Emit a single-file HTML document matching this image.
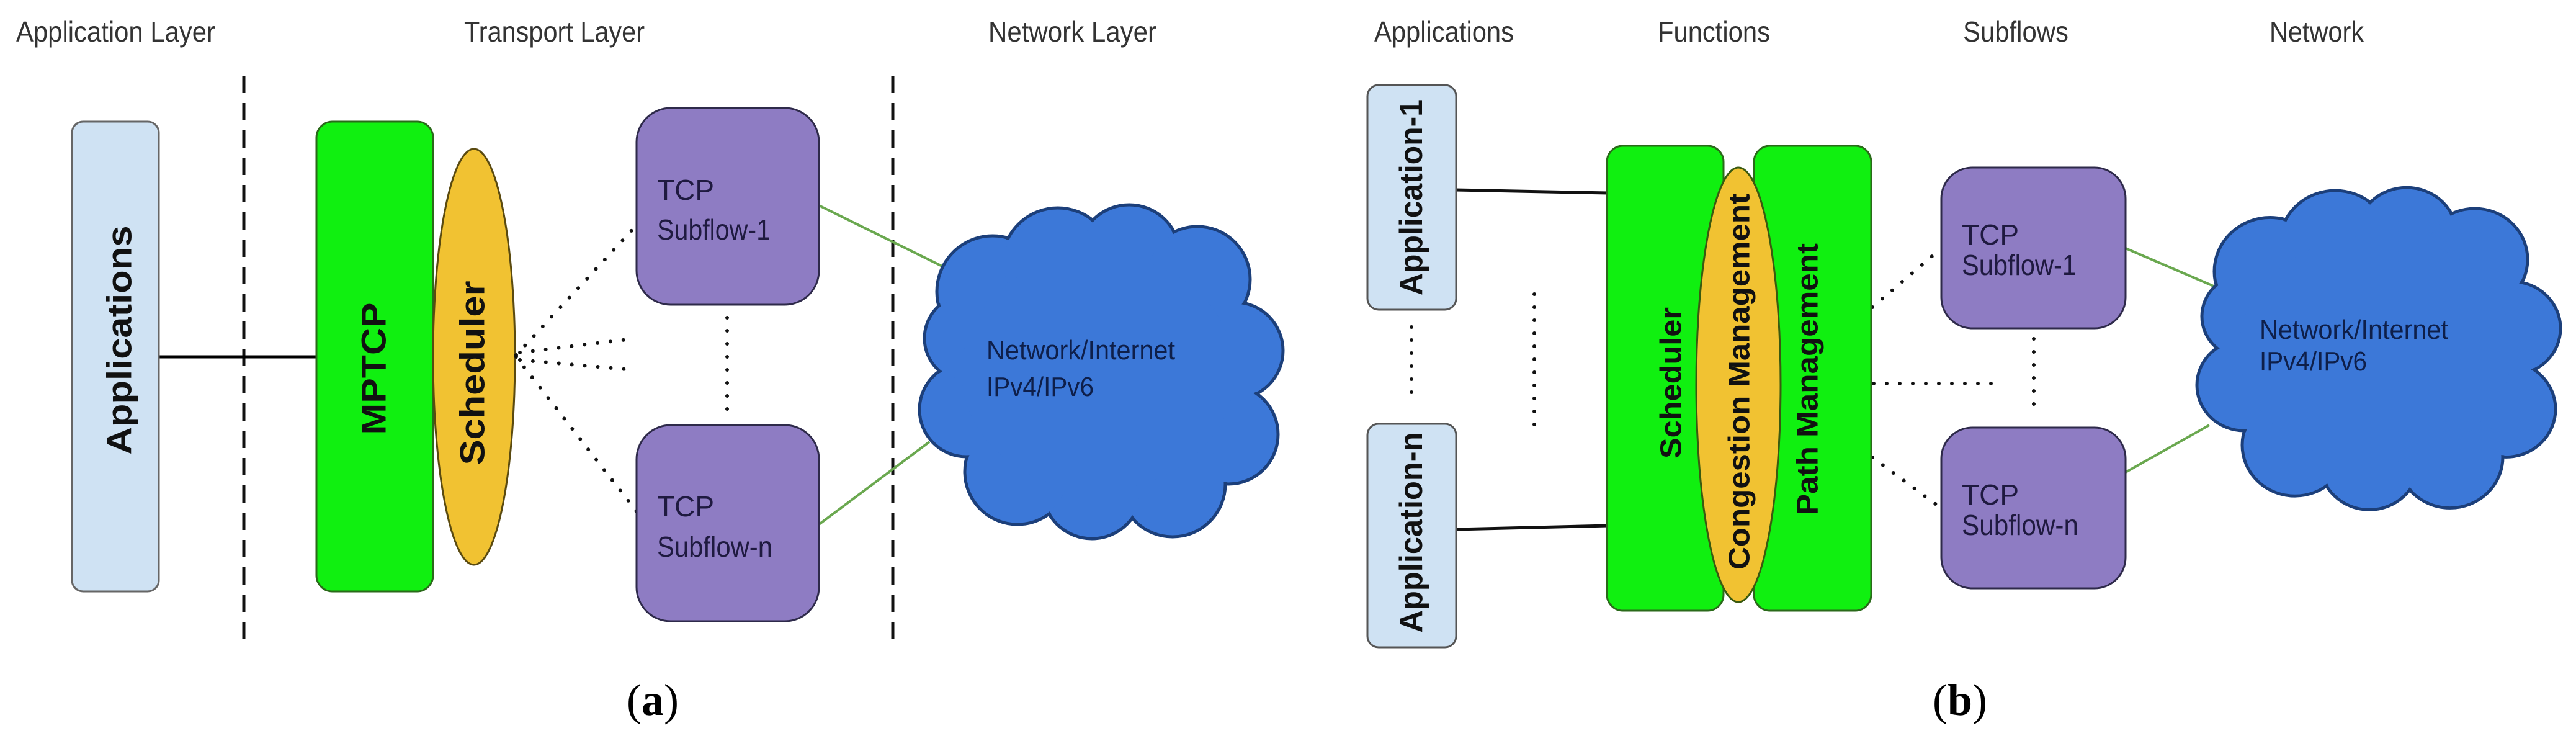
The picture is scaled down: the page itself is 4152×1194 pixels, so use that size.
<!DOCTYPE html>
<html><head><meta charset="utf-8"><style>
html,body{margin:0;padding:0;background:#fff}
svg{display:block}
text{font-family:"Liberation Sans",sans-serif}
</style></head><body>
<svg width="4152" height="1194" viewBox="0 0 4152 1194" xmlns="http://www.w3.org/2000/svg">
<rect width="4152" height="1194" fill="#fff"/>
<!-- Headers a -->
<g fill="#333" font-size="46">
<text x="26" y="67" textLength="321" lengthAdjust="spacingAndGlyphs">Application Layer</text>
<text x="748" y="67" textLength="291" lengthAdjust="spacingAndGlyphs">Transport Layer</text>
<text x="1593" y="67" textLength="271" lengthAdjust="spacingAndGlyphs">Network Layer</text>
<text x="2215" y="67" textLength="225" lengthAdjust="spacingAndGlyphs">Applications</text>
<text x="2672" y="67" textLength="181" lengthAdjust="spacingAndGlyphs">Functions</text>
<text x="3164" y="67" textLength="170" lengthAdjust="spacingAndGlyphs">Subflows</text>
<text x="3658" y="67" textLength="152" lengthAdjust="spacingAndGlyphs">Network</text>
</g>
<!-- dashed lines -->
<g stroke="#111" stroke-width="5" stroke-dasharray="28 16">
<line x1="393" y1="122" x2="393" y2="1036"/>
<line x1="1439" y1="122" x2="1439" y2="1036"/>
</g>
<!-- Panel a -->
<line x1="256" y1="575" x2="512" y2="575" stroke="#000" stroke-width="5"/>
<rect x="116" y="196" width="140" height="757" rx="18" fill="#cfe2f3" stroke="#666" stroke-width="3"/>
<text transform="translate(192,548) rotate(-90)" text-anchor="middle" dominant-baseline="central" font-size="56" font-weight="bold" fill="#111" textLength="369" lengthAdjust="spacingAndGlyphs">Applications</text>
<rect x="510" y="196" width="188" height="757" rx="26" fill="#10f010" stroke="#2a6a1a" stroke-width="3"/>
<text transform="translate(602,594) rotate(-90)" text-anchor="middle" dominant-baseline="central" font-size="56" font-weight="bold" fill="#111" textLength="213" lengthAdjust="spacingAndGlyphs">MPTCP</text>
<ellipse cx="764" cy="575" rx="66" ry="335" fill="#f1c232" stroke="#5a4a10" stroke-width="3"/>
<text transform="translate(761,601) rotate(-90)" text-anchor="middle" dominant-baseline="central" font-size="56" font-weight="bold" fill="#111" textLength="297" lengthAdjust="spacingAndGlyphs">Scheduler</text>
<!-- dotted a -->
<g stroke="#111" stroke-width="6" stroke-linecap="round" stroke-dasharray="0 21" fill="none">
<line x1="832" y1="572" x2="1026" y2="363"/>
<line x1="832" y1="575" x2="1026" y2="824"/>
<line x1="838" y1="568" x2="1020" y2="546"/>
<line x1="838" y1="580" x2="1020" y2="596"/>
<line x1="1172" y1="512" x2="1172" y2="660"/>
</g>
<g stroke="#6aa84f" stroke-width="4">
<line x1="1320" y1="331" x2="1545" y2="442"/>
<line x1="1320" y1="845" x2="1498" y2="712"/>
</g>
<rect x="1026" y="174" width="294" height="317" rx="55" fill="#8e7cc3" stroke="#2e2a4a" stroke-width="3"/>
<rect x="1026" y="685" width="294" height="316" rx="55" fill="#8e7cc3" stroke="#2e2a4a" stroke-width="3"/>
<g fill="#1f1a40" font-size="46">
<text x="1059" y="322">TCP</text>
<text x="1059" y="386" textLength="183" lengthAdjust="spacingAndGlyphs">Subflow-1</text>
<text x="1059" y="832">TCP</text>
<text x="1059" y="897" textLength="186" lengthAdjust="spacingAndGlyphs">Subflow-n</text>
</g>
<!-- cloud a -->
<g id="cloud">
<g fill="#3c78d8" stroke="#1c3f7a" stroke-width="5">
<circle cx="1600" cy="470" r="90"/><circle cx="1705" cy="425" r="90"/><circle cx="1820" cy="412" r="82"/><circle cx="1930" cy="450" r="85"/><circle cx="1990" cy="565" r="78"/><circle cx="1980" cy="700" r="80"/><circle cx="1890" cy="780" r="85"/><circle cx="1760" cy="788" r="80"/><circle cx="1640" cy="760" r="85"/><circle cx="1558" cy="660" r="76"/><circle cx="1560" cy="545" r="70"/>
</g>
<g fill="#3c78d8">
<circle cx="1600" cy="470" r="87"/><circle cx="1705" cy="425" r="87"/><circle cx="1820" cy="412" r="79"/><circle cx="1930" cy="450" r="82"/><circle cx="1990" cy="565" r="75"/><circle cx="1980" cy="700" r="77"/><circle cx="1890" cy="780" r="82"/><circle cx="1760" cy="788" r="77"/><circle cx="1640" cy="760" r="82"/><circle cx="1558" cy="660" r="73"/><circle cx="1560" cy="545" r="67"/>
<ellipse cx="1770" cy="600" rx="220" ry="190"/>
</g>
</g>
<g fill="#0e1f4a" font-size="44">
<text x="1590" y="579" textLength="304" lengthAdjust="spacingAndGlyphs">Network/Internet</text>
<text x="1590" y="638" textLength="173" lengthAdjust="spacingAndGlyphs">IPv4/IPv6</text>
</g>
<text x="1052" y="1152" text-anchor="middle" font-family="Liberation Serif,serif" font-size="72" fill="#000" style="font-family:'Liberation Serif',serif">(<tspan font-weight="bold">a</tspan>)</text>

<!-- Panel b -->
<g stroke="#111" stroke-width="5">
<line x1="2347" y1="306" x2="2592" y2="311"/>
<line x1="2347" y1="853" x2="2592" y2="847"/>
</g>
<rect x="2204" y="137" width="143" height="362" rx="18" fill="#cfe2f3" stroke="#555" stroke-width="3"/>
<rect x="2204" y="683" width="143" height="360" rx="18" fill="#cfe2f3" stroke="#555" stroke-width="3"/>
<text transform="translate(2275,318) rotate(-90)" text-anchor="middle" dominant-baseline="central" font-size="52" font-weight="bold" fill="#111" textLength="316" lengthAdjust="spacingAndGlyphs">Application-1</text>
<text transform="translate(2275,858) rotate(-90)" text-anchor="middle" dominant-baseline="central" font-size="52" font-weight="bold" fill="#111" textLength="323" lengthAdjust="spacingAndGlyphs">Application-n</text>
<g stroke="#111" stroke-width="6" stroke-linecap="round" stroke-dasharray="0 21" fill="none">
<line x1="2275" y1="527" x2="2275" y2="645"/>
<line x1="2473" y1="474" x2="2473" y2="700"/>
<line x1="3018" y1="495" x2="3129" y2="400"/>
<line x1="3018" y1="737" x2="3129" y2="819"/>
<line x1="3020" y1="618" x2="3222" y2="618"/>
<line x1="3278" y1="546" x2="3278" y2="662"/>
</g>
<rect x="2590" y="235" width="188" height="749" rx="26" fill="#10f010" stroke="#2a6a1a" stroke-width="3"/>
<rect x="2827" y="235" width="189" height="749" rx="26" fill="#10f010" stroke="#2a6a1a" stroke-width="3"/>
<ellipse cx="2802" cy="620" rx="68" ry="350" fill="#f1c232" stroke="#3a5a10" stroke-width="3"/>
<g font-size="48" font-weight="bold" fill="#111">
<text transform="translate(2694,617) rotate(-90)" text-anchor="middle" dominant-baseline="central" textLength="244" lengthAdjust="spacingAndGlyphs">Scheduler</text>
<text transform="translate(2804,615) rotate(-90)" text-anchor="middle" dominant-baseline="central" textLength="606" lengthAdjust="spacingAndGlyphs">Congestion Management</text>
<text transform="translate(2914,611) rotate(-90)" text-anchor="middle" dominant-baseline="central" textLength="438" lengthAdjust="spacingAndGlyphs">Path Management</text>
</g>
<g stroke="#6aa84f" stroke-width="4">
<line x1="3426" y1="400" x2="3598" y2="474"/>
<line x1="3426" y1="761" x2="3561" y2="685"/>
</g>
<rect x="3129" y="270" width="297" height="259" rx="50" fill="#8e7cc3" stroke="#2e2a4a" stroke-width="3"/>
<rect x="3129" y="689" width="297" height="259" rx="50" fill="#8e7cc3" stroke="#2e2a4a" stroke-width="3"/>
<g fill="#1f1a40" font-size="46">
<text x="3162" y="394">TCP</text>
<text x="3162" y="443" textLength="185" lengthAdjust="spacingAndGlyphs">Subflow-1</text>
<text x="3162" y="813">TCP</text>
<text x="3162" y="862" textLength="188" lengthAdjust="spacingAndGlyphs">Subflow-n</text>
</g>
<use href="#cloud" transform="translate(2059,-36) translate(3833,565) scale(1,0.965) translate(-3833,-565)"/>
<g fill="#0e1f4a" font-size="44">
<text x="3642" y="546" textLength="304" lengthAdjust="spacingAndGlyphs">Network/Internet</text>
<text x="3642" y="597" textLength="173" lengthAdjust="spacingAndGlyphs">IPv4/IPv6</text>
</g>
<text x="3159" y="1152" text-anchor="middle" font-size="72" fill="#000" style="font-family:'Liberation Serif',serif">(<tspan font-weight="bold">b</tspan>)</text>
</svg>
</body></html>
